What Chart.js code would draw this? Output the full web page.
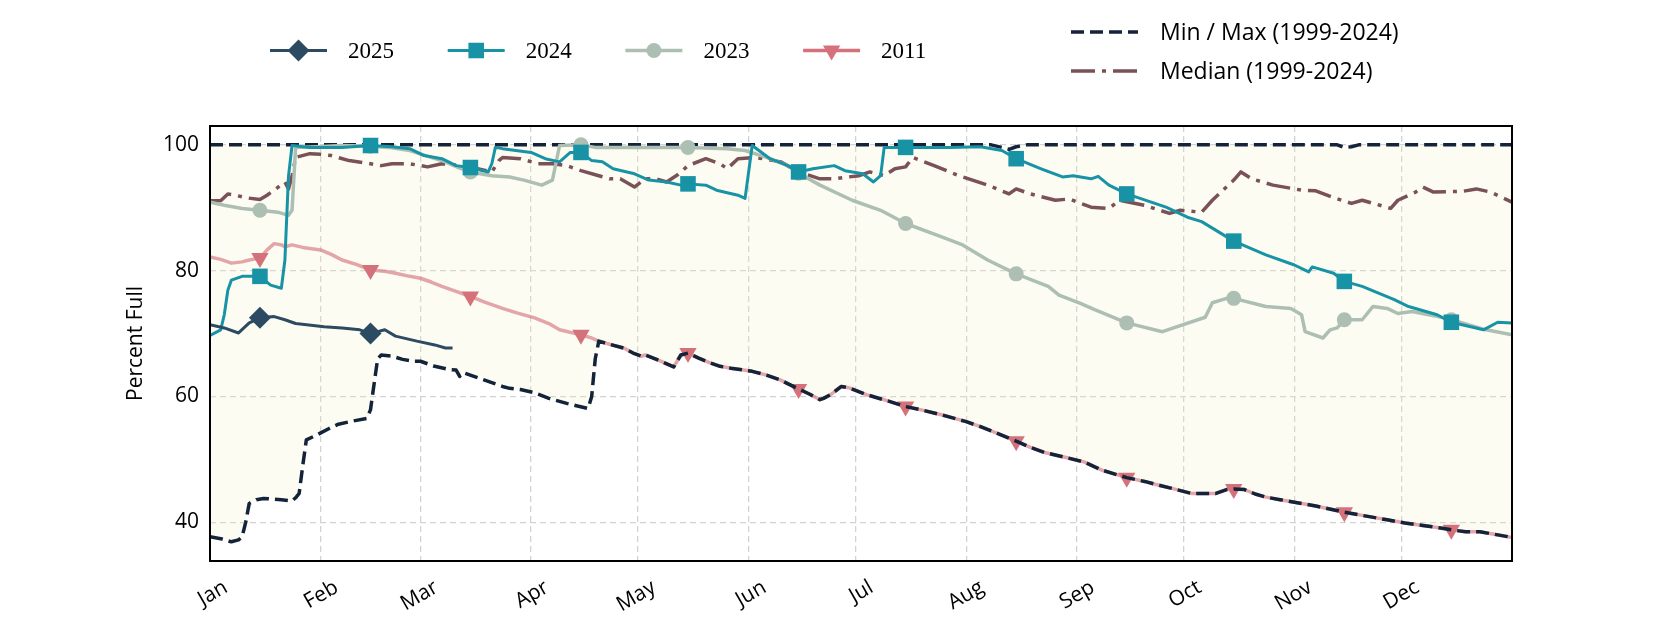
<!DOCTYPE html>
<html>
<head>
<meta charset="utf-8">
<title>Reservoir Percent Full</title>
<script src="https://cdn.jsdelivr.net/npm/chart.js@4.4.1/dist/chart.umd.min.js"></script>
<style>
  html, body { margin: 0; padding: 0; background: #ffffff; }
  #wrap { width: 1680px; height: 630px; }
</style>
</head>
<body>
<div id="wrap"><canvas id="levelChart" width="1680" height="630"></canvas></div>
<script>
// Axis labels
const monthStarts = [0, 31, 59, 90, 120, 151, 181, 212, 243, 273, 304, 334];
const monthLabels = ['Jan', 'Feb', 'Mar', 'Apr', 'May', 'Jun', 'Jul', 'Aug', 'Sep', 'Oct', 'Nov', 'Dec'];
const yTicks = [40, 60, 80, 100];
// days (0 = Jan 1) where the year series carry a marker
const markerDays = [14, 45, 73, 104, 134, 165, 195, 226, 257, 287, 318, 348];

// Series, day of year / percent full
const days2025 = [0, 4, 8, 11, 14, 18, 21, 24, 32, 37, 42, 45, 49, 52, 58, 63, 66, 68];
const pct2025 = [71.4, 70.9, 70.1, 71.7, 72.5, 72.7, 72.2, 71.6, 71.1, 70.9, 70.6, 70.0, 70.6, 69.6, 68.8, 68.2, 67.7, 67.7];

const days2024 = [0, 3, 4, 5, 6, 9, 14, 17, 20, 21, 22, 23, 28, 37, 45, 51, 56, 60, 65, 69, 73, 78, 79, 80, 82, 90, 94, 98, 101, 104,
  107, 110, 113, 119, 123, 128, 132, 134, 139, 142, 148, 150, 152, 157, 162, 165, 169, 175, 178, 183, 186, 188, 189, 195, 207, 216,
  222, 226, 233, 239, 242, 247, 249, 252, 257, 268, 274, 278, 287, 296, 304, 308, 309, 315, 318, 323, 332, 336, 344, 348, 357, 361, 365];
const pct2024 = [69.7, 70.6, 73.0, 76.9, 78.5, 79.1, 79.1, 77.7, 77.2, 81.7, 95.0, 99.9, 99.6, 99.6, 99.9, 99.7, 99.4, 98.3, 97.8, 96.7, 96.4, 95.7, 97.0, 99.6, 99.4, 98.8, 97.8, 97.3, 98.8, 98.8,
  97.5, 97.3, 96.2, 95.4, 94.4, 94.1, 93.6, 93.8, 93.6, 92.8, 92.0, 91.5, 99.9, 97.8, 96.7, 95.7, 96.2, 96.7, 95.9, 95.4, 94.1, 95.1, 99.6, 99.6, 99.6, 99.7,
  99.1, 97.8, 96.2, 94.9, 95.1, 94.6, 95.0, 93.6, 92.2, 90.1, 88.5, 87.8, 84.7, 82.5, 80.9, 79.8, 80.6, 79.6, 78.3, 77.5, 75.4, 74.3, 73.0, 71.8, 70.6, 71.8, 71.7];

const days2023 = [0, 4, 9, 14, 19, 22, 23, 24, 30, 37, 45, 50, 56, 62, 66, 70, 73, 79, 84, 88, 93, 96, 98, 104, 108, 120, 134, 145, 150,
  156, 162, 165, 171, 180, 188, 195, 204, 211, 218, 226, 235, 238, 244, 248, 257, 267, 279, 281, 285, 287, 296, 303, 306, 307, 312,
  314, 316, 318, 323, 326, 330, 333, 337, 346, 348, 357, 365];
const pct2023 = [90.9, 90.4, 89.9, 89.6, 89.3, 88.8, 89.6, 99.6, 99.7, 99.9, 99.8, 99.6, 99.1, 98.0, 97.3, 96.3, 95.7, 95.1, 94.9, 94.4, 93.6, 94.4, 99.9, 100.0, 99.6, 99.6, 99.6, 99.4, 99.1,
  98.0, 96.7, 95.5, 93.6, 91.2, 89.6, 87.5, 85.6, 84.1, 81.7, 79.5, 77.5, 76.1, 74.8, 73.8, 71.7, 70.3, 72.6, 74.9, 75.6, 75.6, 74.3, 74.0, 73.0, 70.3, 69.3,
  70.6, 70.9, 72.2, 72.2, 74.3, 74.0, 73.2, 73.5, 72.5, 72.2, 70.7, 69.8];

const days2011 = [0, 3, 6, 9, 11, 14, 16, 18, 20, 21, 23, 26, 31, 34, 37, 41, 45, 49, 52, 56, 59, 62, 65, 69, 73, 77, 82, 86, 91, 95,
  98, 104, 107, 109, 112, 116, 119, 121, 122, 126, 130, 132, 134, 137, 140, 143, 146, 152, 156, 160, 165, 168, 171, 172, 174, 177,
  179, 184, 190, 195, 200, 205, 212, 216, 220, 226, 230, 234, 240, 245, 250, 257, 262, 266, 271, 275, 282, 285, 287, 290, 293, 296,
  300, 304, 310, 318, 325, 330, 335, 340, 345, 348, 352, 356, 360, 365];
const pct2011 = [82.2, 81.8, 81.2, 81.4, 81.7, 82.0, 83.3, 84.3, 84.1, 83.8, 84.1, 83.7, 83.3, 82.6, 81.7, 81.0, 80.1, 79.9, 79.6, 79.1, 78.8, 78.2, 77.5, 76.7, 75.9, 75.0, 74.0, 73.3, 72.5, 71.6,
  70.6, 69.8, 69.3, 68.8, 68.3, 67.7, 66.8, 66.4, 66.6, 65.7, 64.7, 66.6, 66.9, 66.1, 65.4, 64.8, 64.5, 64.0, 63.4, 62.6, 61.2, 60.4, 59.5, 59.7, 60.3, 61.6,
  61.4, 60.3, 59.3, 58.4, 57.8, 57.1, 56.0, 55.2, 54.3, 52.9, 51.9, 51.1, 50.3, 49.6, 48.3, 47.1, 46.5, 45.9, 45.2, 44.6, 44.6, 45.2, 45.3, 45.2, 44.5, 44.0,
  43.6, 43.2, 42.6, 41.6, 40.9, 40.4, 39.9, 39.5, 39.1, 38.8, 38.5, 38.5, 38.1, 37.6];

const minDays = [0, 3, 6, 8, 9, 10, 11, 13, 15, 20, 23, 24, 25, 26, 27, 30, 33, 36, 40, 44, 45, 46, 47, 48, 51, 54, 57, 59, 61, 63,
  67, 69, 70, 71, 75, 79, 82, 84, 87, 91, 95, 100, 103, 106, 107, 108, 109, 112, 116, 119, 121, 122, 126, 130, 132, 134, 137, 140,
  143, 146, 152, 156, 160, 165, 168, 171, 172, 174, 177, 179, 184, 190, 195, 200, 205, 212, 216, 220, 226, 230, 234, 240, 245, 250,
  257, 262, 266, 271, 275, 282, 285, 287, 290, 293, 296, 300, 304, 310, 318, 325, 330, 335, 340, 345, 348, 352, 356, 360, 365];
const minPct = [37.7, 37.4, 36.9, 37.2, 37.7, 40.0, 43.0, 43.6, 43.8, 43.6, 43.4, 43.9, 44.6, 49.0, 53.1, 53.9, 54.8, 55.6, 56.1, 56.5, 57.9, 62.0, 66.0, 66.6, 66.4, 65.9, 65.6, 65.6, 65.2, 64.8,
  64.3, 64.2, 63.2, 63.8, 63.0, 62.2, 61.6, 61.3, 61.1, 60.6, 59.7, 58.9, 58.5, 58.1, 60.0, 66.0, 68.8, 68.3, 67.7, 66.8, 66.4, 66.6, 65.7, 64.7, 66.6, 66.9, 66.1, 65.4,
  64.8, 64.5, 64.0, 63.4, 62.6, 61.2, 60.4, 59.5, 59.7, 60.3, 61.6, 61.4, 60.3, 59.3, 58.4, 57.8, 57.1, 56.0, 55.2, 54.3, 52.9, 51.9, 51.1, 50.3, 49.6, 48.3,
  47.1, 46.5, 45.9, 45.2, 44.6, 44.6, 45.2, 45.3, 45.2, 44.5, 44.0, 43.6, 43.2, 42.6, 41.6, 40.9, 40.4, 39.9, 39.5, 39.1, 38.8, 38.5, 38.5, 38.1, 37.6];

const maxDays = [0, 219, 222, 224, 226, 229, 316, 318, 320, 322, 365];
const maxPct = [100, 100, 99.6, 99.3, 99.7, 100, 100, 99.6, 99.7, 100, 100];

const medianDays = [0, 3, 5, 7, 10, 14, 16, 18, 21, 22, 23, 24, 28, 31, 34, 39, 45, 48, 51, 56, 61, 65, 70, 75, 79, 81, 82, 87, 92, 96,
  100, 104, 109, 112, 115, 119, 122, 125, 128, 131, 134, 139, 143, 145, 148, 153, 160, 165, 171, 175, 179, 182, 185, 189, 192, 195,
  197, 203, 210, 218, 224, 226, 230, 237, 241, 244, 247, 252, 255, 262, 269, 272, 278, 281, 284, 287, 289, 292, 298, 306, 310, 315,
  320, 323, 331, 333, 338, 340, 343, 351, 355, 359, 365];
const medianPct = [91.1, 91.1, 92.2, 92.0, 91.6, 91.3, 92.0, 92.8, 94.1, 93.0, 95.0, 98.0, 98.6, 98.5, 98.3, 97.5, 97.0, 96.7, 97.0, 97.0, 96.5, 97.0, 96.7, 96.2, 95.7, 97.5, 98.0, 97.8, 97.0, 97.0,
  96.7, 95.9, 95.1, 94.6, 94.6, 93.3, 94.6, 94.6, 94.1, 95.2, 96.7, 97.8, 97.0, 96.2, 97.8, 98.0, 97.3, 95.7, 94.6, 94.6, 94.9, 95.1, 95.7, 95.1, 96.2, 96.5,
  98.0, 96.7, 95.1, 93.6, 92.2, 93.0, 92.2, 91.2, 91.4, 90.7, 90.1, 89.9, 91.2, 90.4, 89.1, 89.6, 89.3, 91.2, 92.8, 94.4, 95.7, 94.6, 93.6, 92.8, 92.7, 91.6,
  90.7, 91.2, 89.9, 91.2, 92.5, 93.3, 92.5, 92.6, 93.0, 92.5, 90.9];

const sansFont = '"Open Sans", "DejaVu Sans", sans-serif';
const serifFont = '"Liberation Serif", "DejaVu Serif", serif';

function markRadius(r) {
    return ctx => (ctx.raw && markerDays.includes(ctx.raw.x)) ? r : 0;
}

function makeSeries(label, days, pct, style) {
    return Object.assign({
        label: label,
        data: days.map((d, i) => ({ x: d, y: pct[i] })),
        fill: false,
        tension: 0,
        pointRadius: 0,
        pointHoverRadius: 0,
        pointBorderWidth: 0,
        borderCapStyle: 'butt',
        borderJoinStyle: 'round'
    }, style);
}

const datasets = [
    makeSeries('Max', maxDays, maxPct, {
        borderColor: '#13233a', borderWidth: 3.5, borderDash: [13, 6], order: 3
    }),
    makeSeries('Min / Max (1999-2024)', minDays, minPct, {
        borderColor: '#13233a', borderWidth: 3.5, borderDash: [13, 6], order: 3,
        fill: '-1', backgroundColor: 'rgba(240, 240, 190, 0.2)'
    }),
    makeSeries('Median (1999-2024)', medianDays, medianPct, {
        borderColor: '#7a5157', borderWidth: 3.5, borderDash: [24, 7, 4, 7], order: 5
    }),
    makeSeries('2011', days2011, pct2011, {
        borderColor: 'rgba(212, 112, 122, 0.62)', borderWidth: 3.5, order: 4,
        pointStyle: 'triangle', pointRotation: 180, pointRadius: markRadius(10),
        pointBackgroundColor: '#d4717a', legendColor: '#d4717a', legendRadius: 10
    }),
    makeSeries('2023', days2023, pct2023, {
        borderColor: '#adbfb3', borderWidth: 3.5, order: 2,
        pointStyle: 'circle', pointRadius: markRadius(7.5),
        pointBackgroundColor: '#adbfb3', legendRadius: 7.5
    }),
    makeSeries('2024', days2024, pct2024, {
        borderColor: '#1893a6', borderWidth: 3, order: 1,
        pointStyle: 'rect', pointRadius: markRadius(11),
        pointBackgroundColor: '#1893a6', legendRadius: 11
    }),
    makeSeries('2025', days2025, pct2025, {
        borderColor: '#2c4a61', borderWidth: 3, order: 0,
        pointStyle: 'rectRot', pointRadius: markRadius(11),
        pointBackgroundColor: '#2c4a61', legendRadius: 11
    })
];

// black box around the plot area
const framePlugin = {
    id: 'frame',
    afterDraw(chart) {
        const a = chart.chartArea;
        const ctx = chart.ctx;
        ctx.save();
        ctx.strokeStyle = '#000';
        ctx.lineWidth = 2;
        ctx.strokeRect(a.left, a.top, a.right - a.left, a.bottom - a.top);
        ctx.restore();
    }
};

function legendLine(ctx, x1, x2, y, ds) {
    ctx.save();
    ctx.strokeStyle = ds.legendColor || ds.borderColor;
    ctx.lineWidth = ds.borderWidth;
    ctx.setLineDash(ds.borderDash || []);
    ctx.beginPath();
    ctx.moveTo(x1, y);
    ctx.lineTo(x2, y);
    ctx.stroke();
    ctx.restore();
}

// two legends: years in a row, reference lines stacked at the right
const legendPlugin = {
    id: 'twoLegends',
    afterDraw(chart) {
        const ctx = chart.ctx;
        const ds = chart.data.datasets;
        const byLabel = l => ds.find(d => d.label === l);

        ['2025', '2024', '2023', '2011'].forEach((l, i) => {
            const d = byLabel(l);
            const x0 = 270 + i * 177.7;
            const y = 50.5;
            legendLine(ctx, x0, x0 + 57, y, d);
            ctx.save();
            ctx.fillStyle = d.pointBackgroundColor;
            Chart.helpers.drawPoint(ctx, {
                pointStyle: d.pointStyle, radius: d.legendRadius,
                rotation: d.pointRotation || 0, borderWidth: 0
            }, x0 + 28.5, y);
            ctx.fillStyle = '#000';
            ctx.font = '23px ' + serifFont;
            ctx.textBaseline = 'middle';
            ctx.fillText(l, x0 + 78, y + 1);
            ctx.restore();
        });

        [['Min / Max (1999-2024)', 32], ['Median (1999-2024)', 71]].forEach(([l, y]) => {
            const d = byLabel(l);
            legendLine(ctx, 1071, 1138, y, d);
            ctx.save();
            ctx.fillStyle = '#000';
            ctx.font = '23px ' + sansFont;
            ctx.textBaseline = 'middle';
            ctx.fillText(l, 1160, y + 1);
            ctx.restore();
        });
    }
};

function createLevelChart() {
    const ctx = document.getElementById('levelChart').getContext('2d');
    new Chart(ctx, {
        type: 'line',
        data: { datasets: datasets },
        options: {
            responsive: false,
            animation: false,
            events: [],
            devicePixelRatio: 1,
            layout: { padding: { left: 0, right: 168, top: 126, bottom: 0 } },
            plugins: {
                legend: { display: false },
                tooltip: { enabled: false },
                filler: { drawTime: 'beforeDatasetsDraw' }
            },
            scales: {
                x: {
                    type: 'linear',
                    min: 0,
                    max: 365,
                    afterBuildTicks: s => { s.ticks = monthStarts.map(v => ({ value: v })); },
                    afterFit: s => { s.height = 69; },
                    ticks: {
                        autoSkip: false,
                        maxRotation: 30,
                        minRotation: 30,
                        padding: 14,
                        labelOffset: 16,
                        color: '#000',
                        font: { family: sansFont, size: 21 },
                        callback: (v, i) => monthLabels[i]
                    },
                    grid: { color: '#d2d2d2', lineWidth: 1.3, drawTicks: false },
                    border: { display: false, dash: [6, 4] }
                },
                y: {
                    min: 33.85,
                    max: 103,
                    afterBuildTicks: s => { s.ticks = yTicks.map(v => ({ value: v })); },
                    afterFit: s => { s.width = 210; },
                    ticks: {
                        padding: 11,
                        color: '#000',
                        font: { family: sansFont, size: 21 }
                    },
                    grid: { color: '#d2d2d2', lineWidth: 1.3, drawTicks: false },
                    border: { display: false, dash: [6, 4] },
                    title: {
                        display: true,
                        text: 'Percent Full',
                        color: '#000',
                        font: { family: sansFont, size: 21 },
                        padding: { top: 123, bottom: 0 }
                    }
                }
            }
        },
        plugins: [framePlugin, legendPlugin]
    });
}

window.onload = function() {
    createLevelChart();
};
</script>
</body>
</html>
